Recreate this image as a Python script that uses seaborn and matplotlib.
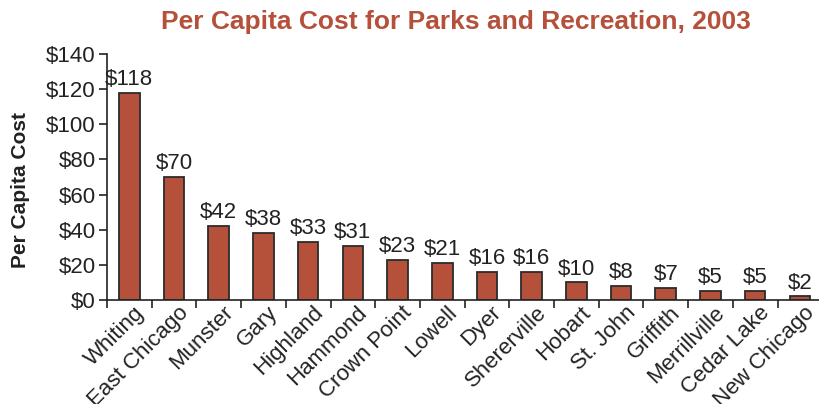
import matplotlib
matplotlib.use("Agg")
import matplotlib.pyplot as plt
import matplotlib.transforms as mtransforms
import seaborn as sns
import numpy as np
from matplotlib.ticker import FixedLocator

cities = ["Whiting", "East Chicago", "Munster", "Gary", "Highland", "Hammond",
          "Crown Point", "Lowell", "Dyer", "Shererville", "Hobart", "St. John",
          "Griffith", "Merrillville", "Cedar Lake", "New Chicago"]
costs = [118, 70, 42, 38, 33, 31, 23, 21, 16, 16, 10, 8, 7, 5, 5, 2]
yticks = [0, 20, 40, 60, 80, 100, 120, 140]

sns.set_style("white")
plt.rcParams['font.family'] = ['Liberation Sans', 'DejaVu Sans']

bar_color = "#B5503A"
txt = "#222222"
fig = plt.figure(figsize=(8.2, 4.04), dpi=100)
ax = fig.add_axes([107/820, 1-300/404, 1-107/820, (300-54)/404])

sns.barplot(x=cities, y=costs, color=bar_color, saturation=1, width=0.46,
            edgecolor="#2b2b2b", linewidth=1.3, ax=ax)

ax.set_xlim(-0.5, 15.45)
ax.set_ylim(0, 140)
ax.set_yticks(yticks)
ax.set_yticklabels([f"${v}" for v in yticks], fontsize=16, color=txt)
ax.tick_params(axis='y', which='major', direction='out', length=6, width=1.2,
               left=True, pad=2, colors=txt)

ax.set_xticks(range(len(cities)))
ax.set_xticklabels(cities, rotation=45, ha='right', rotation_mode='anchor',
                   fontsize=16, color=txt)
ax.tick_params(axis='x', which='major', length=0, pad=3)
shift = mtransforms.ScaledTranslation(4/100, 2/100, fig.dpi_scale_trans)
for lab in ax.get_xticklabels():
    lab.set_transform(lab.get_transform() + shift)
ax.xaxis.set_minor_locator(FixedLocator(np.arange(-0.5, len(cities), 1.0)))
ax.tick_params(axis='x', which='minor', direction='out', length=6, width=1.2,
               bottom=True, color=txt)

for s in ["top", "right"]:
    ax.spines[s].set_visible(False)
for s in ["left", "bottom"]:
    ax.spines[s].set_color(txt)
    ax.spines[s].set_linewidth(1.2)

for i, v in enumerate(costs):
    ax.annotate(f"${v}", (i, v), xytext=(0, 2), textcoords="offset points",
                ha='center', va='bottom', fontsize=16, color=txt)

ax.set_xlabel("")
ax.set_ylabel("Per Capita Cost", fontsize=15, fontweight='bold', color=txt)
ax.yaxis.set_label_coords(-(107-21)/713, (300-190)/246)
ax.yaxis.label.set_va('center')

fig.text(456/820, 1-22/404, "Per Capita Cost for Parks and Recreation, 2003",
         ha='center', va='center', fontsize=19, fontweight='bold', color=bar_color)

fig.savefig("out.png", dpi=100)
